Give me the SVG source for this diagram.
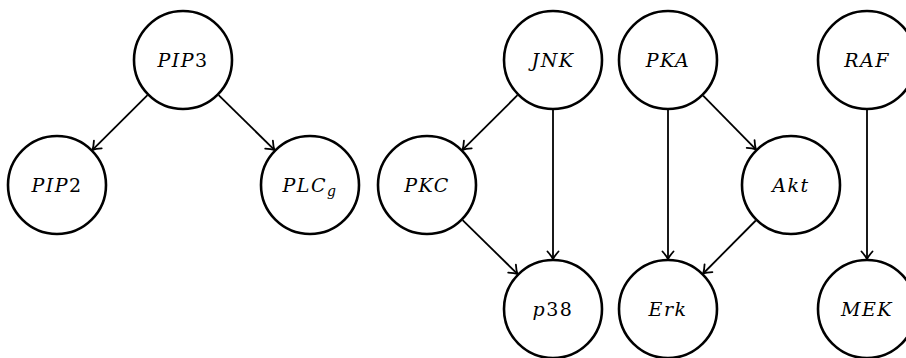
<svg xmlns="http://www.w3.org/2000/svg" width="906" height="358" viewBox="0 0 906 358">
<style>
.node circle{fill:#fff;stroke:#000;stroke-width:2.6}
.node text{font-family:"DejaVu Serif",serif;font-style:italic;font-size:19px;text-anchor:middle;fill:#000;letter-spacing:1.5px}
.up{font-style:normal}
.edges line{stroke:#000;stroke-width:1.8;marker-end:url(#arr)}
</style>
<defs>
<marker id="arr" markerUnits="userSpaceOnUse" markerWidth="20" markerHeight="20" refX="0" refY="0" viewBox="-10 -10 20 20" orient="auto" overflow="visible">
<path d="M -7.5 -5.5 Q -3 -1.5 0 0 Q -3 1.5 -7.5 5.5" fill="none" stroke="#000" stroke-width="1.8" stroke-linecap="round"/>
</marker>
</defs>
<g class="edges">
<line x1="147.5" y1="95.2" x2="92.5" y2="149.8"/>
<line x1="218.6" y1="95.1" x2="274.4" y2="149.9"/>
<line x1="517.5" y1="95.2" x2="462.5" y2="149.8"/>
<line x1="553" y1="110" x2="553" y2="259"/>
<line x1="462.6" y1="220.1" x2="517.4" y2="273.9"/>
<line x1="668" y1="110" x2="668" y2="259"/>
<line x1="703.1" y1="95.6" x2="755.9" y2="149.4"/>
<line x1="755.8" y1="220.5" x2="703.2" y2="273.5"/>
<line x1="867" y1="110" x2="867" y2="259"/>
</g>
<g id="PIP3" class="node"><circle cx="183" cy="60" r="49"/><text x="183" y="67">PIP<tspan class="up">3</tspan></text></g>
<g id="PIP2" class="node"><circle cx="57" cy="185" r="49"/><text x="57" y="192">PIP<tspan class="up">2</tspan></text></g>
<g id="PLCg" class="node"><circle cx="310" cy="185" r="49"/><text x="310" y="192">PLC<tspan font-size="14" dy="4">g</tspan></text></g>
<g id="JNK" class="node"><circle cx="553" cy="60" r="49"/><text x="553" y="67">JNK</text></g>
<g id="PKC" class="node"><circle cx="427" cy="185" r="49"/><text x="427" y="192">PKC</text></g>
<g id="p38" class="node"><circle cx="553" cy="309" r="49"/><text x="553" y="316">p<tspan class="up">38</tspan></text></g>
<g id="PKA" class="node"><circle cx="668" cy="60" r="49"/><text x="668" y="67">PKA</text></g>
<g id="Akt" class="node"><circle cx="791" cy="185" r="49"/><text x="791" y="192">Akt</text></g>
<g id="Erk" class="node"><circle cx="668" cy="309" r="49"/><text x="668" y="316">Erk</text></g>
<g id="RAF" class="node"><circle cx="867" cy="60" r="49"/><text x="867" y="67">RAF</text></g>
<g id="MEK" class="node"><circle cx="867" cy="309" r="49"/><text x="867" y="316">MEK</text></g>
</svg>
